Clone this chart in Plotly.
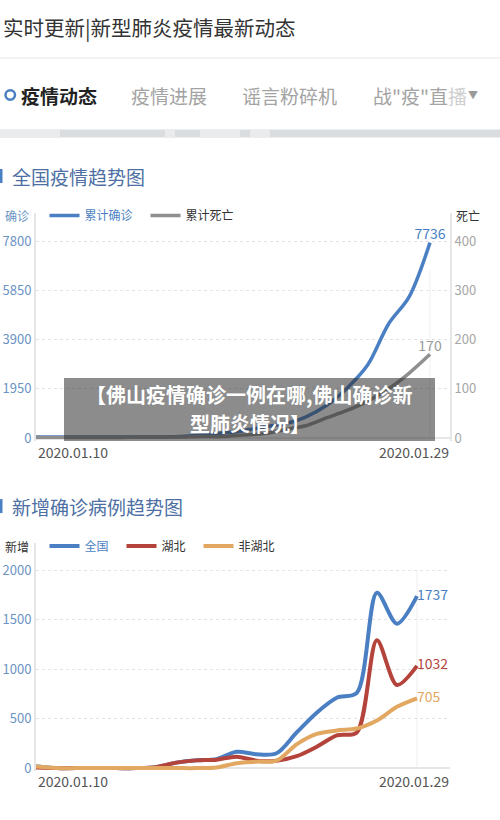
import plotly.graph_objects as go

# ---------------- data ----------------
dates = ["2020.01.10", "2020.01.11", "2020.01.12", "2020.01.13", "2020.01.14",
         "2020.01.15", "2020.01.16", "2020.01.17", "2020.01.18", "2020.01.19",
         "2020.01.20", "2020.01.21", "2020.01.22", "2020.01.23", "2020.01.24",
         "2020.01.25", "2020.01.26", "2020.01.27", "2020.01.28", "2020.01.29"]

cum_confirmed = [41, 41, 41, 41, 41, 41, 45, 62, 121, 198,
                 291, 440, 571, 830, 1287, 1975, 2900, 4515, 5600, 7736]
cum_deaths = [1, 1, 1, 1, 1, 2, 2, 2, 3, 3,
              6, 9, 17, 25, 41, 56, 75, 100, 132, 170]

new_national = [20, 0, 0, 0, 0, 0, 10, 55, 80, 90,
                165, 140, 150, 360, 560, 710, 760, 1771, 1459, 1737]
new_hubei = [5, 0, 0, 0, 0, 0, 10, 55, 78, 85,
             115, 75, 75, 120, 215, 330, 360, 1291, 840, 1032]
new_nonhubei = [15, 0, 0, 0, 0, 0, 0, 0, 0, 5,
                50, 65, 75, 240, 345, 380, 400, 480, 619, 705]

left_ticks_1 = [0, 1950, 3900, 5850, 7800]
right_ticks_1 = [0, 100, 200, 300, 400]
left_ticks_2 = [0, 500, 1000, 1500, 2000]

# ---------------- style ----------------
W, H = 500, 820
YS = 1.0075  # small vertical correction for the capture
FONT = "Noto Sans CJK SC"
BLUE = "#4a7fc3"
GRAY = "#8f8f8f"
RED = "#b4443b"
ORANGE = "#e2a862"
TICKBLUE = "#6b93c3"
AXIS = "#e6e6e6"
GRID = "#e3e3e3"


def px(x):
    return x / W


def py(y):
    return 1 - (y * YS) / H


fig = go.Figure()

# chart 1 traces
fig.add_trace(go.Scatter(x=dates, y=cum_confirmed, mode="lines",
                         line=dict(color=BLUE, width=3.5, shape="spline", smoothing=0.9),
                         name='<span style="color:%s">累计确诊</span>' % BLUE, legend="legend",
                         xaxis="x", yaxis="y"))
fig.add_trace(go.Scatter(x=dates, y=cum_deaths, mode="lines",
                         line=dict(color=GRAY, width=3.5, shape="spline", smoothing=0.9),
                         name="累计死亡", legend="legend", xaxis="x", yaxis="y2"))
fig.add_trace(go.Scatter(x=[dates[-1]], y=[cum_confirmed[-1]], mode="text", text=[str(cum_confirmed[-1])],
                         textposition="top center", textfont=dict(size=14, color=BLUE, family=FONT),
                         showlegend=False, cliponaxis=False, xaxis="x", yaxis="y"))
fig.add_trace(go.Scatter(x=[dates[-1]], y=[cum_deaths[-1]], mode="text", text=[str(cum_deaths[-1])],
                         textposition="top center", textfont=dict(size=14, color="#999999", family=FONT),
                         showlegend=False, cliponaxis=False, xaxis="x", yaxis="y2"))

# chart 2 traces
for vals, col, nm in [(new_national, BLUE, '<span style="color:%s">全国</span>' % BLUE),
                      (new_hubei, RED, "湖北"),
                      (new_nonhubei, ORANGE, "非湖北")]:
    fig.add_trace(go.Scatter(x=dates, y=vals, mode="lines",
                             line=dict(color=col, width=4, shape="spline", smoothing=0.85),
                             name=nm, legend="legend2", xaxis="x2", yaxis="y3"))
for vals, col in [(new_national, BLUE), (new_hubei, RED), (new_nonhubei, ORANGE)]:
    fig.add_trace(go.Scatter(x=[dates[-1]], y=[vals[-1]], mode="text", text=[str(vals[-1])],
                             textposition="middle right", textfont=dict(size=14, color=col, family=FONT),
                             showlegend=False, cliponaxis=False, xaxis="x2", yaxis="y3"))

# axis geometry (reference pixel positions)
c1_top, c1_zero, c1_max_px, c1_bot = 213, 438, 241, 441
c2_top, c2_zero, c2_max_px, c2_bot = 543, 768, 570, 771
xl, xr = 36, 450

k1 = 7800 / (c1_zero - c1_max_px)
k1r = 400 / (c1_zero - c1_max_px)
k2 = 2000 / (c2_zero - c2_max_px)

yax_common = dict(showgrid=True, gridcolor=GRID, griddash="dot", gridwidth=1,
                  zeroline=True, zerolinecolor=AXIS, zerolinewidth=2,
                  showline=True, linecolor=AXIS, linewidth=2, ticks="",
                  tickfont=dict(size=13, color=TICKBLUE, family=FONT), fixedrange=True)

fig.update_layout(
    width=W, height=H, margin=dict(l=0, r=0, t=0, b=0),
    paper_bgcolor="white", plot_bgcolor="rgba(0,0,0,0)",
    font=dict(family=FONT, color="#333333"),
    xaxis=dict(domain=[px(xl), px(xr)], type="category", range=[0, 19 + (xr - 430) / ((430 - xl) / 19)],
               showgrid=False, zeroline=False, showline=False, showticklabels=False, anchor="y"),
    yaxis=dict(domain=[py(c1_bot), py(c1_top)], anchor="x",
               range=[-(c1_bot - c1_zero) * k1, (c1_zero - c1_top) * k1],
               tickvals=left_ticks_1, **yax_common),
    yaxis2=dict(domain=[py(c1_bot), py(c1_top)], anchor="x", overlaying="y", side="right",
                range=[-(c1_bot - c1_zero) * k1r, (c1_zero - c1_top) * k1r],
                tickvals=right_ticks_1, showgrid=False, zeroline=False,
                showline=True, linecolor=AXIS, linewidth=2, ticks="",
                tickfont=dict(size=13, color="#a6a6a6", family=FONT)),
    xaxis2=dict(domain=[px(xl), px(xr)], type="category", range=[0, 19 + (xr - 417) / ((417 - xl) / 19)],
                showgrid=False, zeroline=False, showline=False, showticklabels=False, anchor="y3"),
    yaxis3=dict(domain=[py(c2_bot), py(c2_top)], anchor="x2",
                range=[-(c2_bot - c2_zero) * k2, (c2_zero - c2_top) * k2],
                tickvals=left_ticks_2, **yax_common),
    legend=dict(orientation="h", x=px(44.5), y=py(215.5), xanchor="left", yanchor="middle",
                font=dict(size=12, color="#333333", family=FONT), bgcolor="rgba(0,0,0,0)",
                itemwidth=30, entrywidth=56, entrywidthmode="pixels", borderwidth=0),
    legend2=dict(orientation="h", x=px(44.5), y=py(546), xanchor="left", yanchor="middle",
                 font=dict(size=12, color="#333333", family=FONT), bgcolor="rgba(0,0,0,0)",
                 itemwidth=30, entrywidth=32, entrywidthmode="pixels", borderwidth=0),
    showlegend=True,
)

shapes = []
# header separator
shapes.append(dict(type="line", xref="paper", yref="paper", x0=0, x1=1, y0=py(58), y1=py(58),
                   line=dict(color="#e8e8e8", width=1)))
# tab ring
shapes.append(dict(type="circle", xref="paper", yref="paper", x0=px(5.5), x1=px(15), y0=py(99.7), y1=py(90.3),
                   line=dict(color=BLUE, width=2.5), fillcolor="white"))
# map strip
shapes.append(dict(type="rect", xref="paper", yref="paper", x0=0, x1=1, y0=py(137.5), y1=py(129.5),
                   line=dict(width=0), fillcolor="#d9dde0"))
for a, b in [(0, 60), (165, 175), (200, 240), (250, 270)]:
    shapes.append(dict(type="rect", xref="paper", yref="paper", x0=px(a), x1=px(b), y0=py(137.5), y1=py(129.5),
                       line=dict(width=0), fillcolor="#e9ebed"))
# section bars
for yc in (176, 506):
    shapes.append(dict(type="rect", xref="paper", yref="paper", x0=0, x1=px(2.5), y0=py(yc + 7), y1=py(yc - 7),
                       line=dict(width=0), fillcolor=BLUE))
# faint vertical lines at last point
shapes.append(dict(type="line", xref="x", yref="paper", x0=dates[-1], x1=dates[-1], y0=py(438), y1=py(270),
                   line=dict(color="#efefef", width=1), layer="below"))
shapes.append(dict(type="line", xref="x2", yref="paper", x0=dates[-1], x1=dates[-1], y0=py(768), y1=py(570),
                   line=dict(color="#efefef", width=1), layer="below"))
# overlay box
shapes.append(dict(type="rect", xref="paper", yref="paper", x0=px(64), x1=px(435), y0=py(441), y1=py(378),
                   line=dict(width=0), fillcolor="rgba(45,45,45,0.55)", layer="above"))
fig.update_layout(shapes=shapes)

ann = []


def text(x, y, s, size, color, anchor="left", bold=False):
    ann.append(dict(x=px(x), y=py(y), xref="paper", yref="paper", text=("<b>%s</b>" % s) if bold else s,
                    showarrow=False, xanchor=anchor, yanchor="middle",
                    font=dict(size=size, color=color, family=FONT)))


text(1, 27, "实时更新|新型肺炎疫情最新动态", 20.5, "#333333")
text(19, 95, "疫情动态", 19, "#222222", bold=True)
text(129, 95, "疫情进展", 19, "#a3a3a3")
text(240, 95, "谣言粉碎机", 19, "#a3a3a3")
text(371, 95, '战"疫"直<span style="color:#cfcfcf">播</span>', 19, "#a3a3a3")
text(466, 94, "▼", 10, "#9a9a9a")
text(10, 176.5, "全国疫情趋势图", 19, "#4d6fa3")
text(10, 506.5, "新增确诊病例趋势图", 19, "#4d6fa3")
text(16.5, 215.5, "确诊", 12, TICKBLUE, anchor="center")
text(468, 215.5, "死亡", 12, "#333333", anchor="center")
text(16.5, 546, "新增", 12, "#333333", anchor="center")
text(36, 452, dates[0], 14, "#555555")
text(451, 452, dates[-1], 14, "#555555", anchor="right")
text(36, 781, dates[0], 14, "#555555")
text(451, 781, dates[-1], 14, "#555555", anchor="right")
text(249.5, 394, "【佛山疫情确诊一例在哪,佛山确诊新", 20, "white", anchor="center", bold=True)
text(249.5, 423.5, "型肺炎情况】", 20, "white", anchor="center", bold=True)
fig.update_layout(annotations=ann)

post = """
document.documentElement.style.margin='0';
document.body.style.margin='0';
document.body.style.overflow='hidden';
"""
fig.write_html("out.html", config={"displayModeBar": False}, post_script=post)
